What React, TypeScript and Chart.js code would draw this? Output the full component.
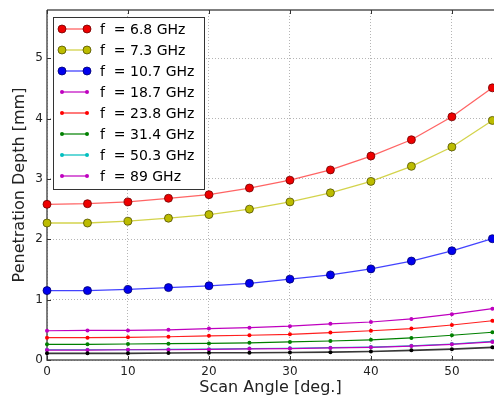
import { useEffect, useRef } from "react";
import { Chart, registerables } from "chart.js";

Chart.register(...registerables);

// ---- data ----
const angles = [0, 5, 10, 15, 20, 25, 30, 35, 40, 45, 50, 55];
const seriesLabels = [
  "f  = 6.8 GHz",
  "f  = 7.3 GHz",
  "f  = 10.7 GHz",
  "f  = 18.7 GHz",
  "f  = 23.8 GHz",
  "f  = 31.4 GHz",
  "f  = 50.3 GHz",
  "f  = 89 GHz",
];
const depth68 = [2.58, 2.59, 2.62, 2.68, 2.74, 2.85, 2.98, 3.15, 3.38, 3.65, 4.03, 4.51];
const depth73 = [2.27, 2.27, 2.3, 2.35, 2.41, 2.5, 2.62, 2.77, 2.96, 3.21, 3.53, 3.97];
const depth107 = [1.15, 1.15, 1.17, 1.2, 1.23, 1.27, 1.34, 1.41, 1.51, 1.64, 1.81, 2.01];
const depth187 = [0.485, 0.49, 0.49, 0.5, 0.52, 0.535, 0.56, 0.6, 0.63, 0.68, 0.76, 0.85];
const depth238 = [0.37, 0.37, 0.375, 0.385, 0.4, 0.41, 0.425, 0.455, 0.485, 0.52, 0.58, 0.65];
const depth314 = [0.26, 0.26, 0.265, 0.27, 0.275, 0.285, 0.3, 0.315, 0.335, 0.365, 0.41, 0.46];
const depth503 = [0.17, 0.17, 0.17, 0.175, 0.18, 0.19, 0.195, 0.205, 0.215, 0.235, 0.265, 0.31];
const depth89 = [0.165, 0.165, 0.17, 0.17, 0.175, 0.185, 0.19, 0.2, 0.21, 0.23, 0.26, 0.3];
const depthExtra = [0.11, 0.11, 0.11, 0.115, 0.12, 0.12, 0.125, 0.13, 0.14, 0.16, 0.18, 0.21];
const xTickValues = [0, 10, 20, 30, 40, 50];
const yTickValues = [0, 1, 2, 3, 4, 5];

const FONT = '"DejaVu Sans", "Liberation Sans", sans-serif';

type Style = { line: string; fill: string; edge: string; r: number; ew: number; lw: number };
const styles: Style[] = [
  { line: "rgba(255,40,40,0.72)", fill: "#ee0000", edge: "#700000", r: 4, ew: 0.8, lw: 1.3 },
  { line: "rgba(200,200,30,0.8)", fill: "#bcbc00", edge: "#505000", r: 4, ew: 0.8, lw: 1.3 },
  { line: "rgba(20,20,255,0.8)", fill: "#0000ee", edge: "#000070", r: 4, ew: 0.8, lw: 1.3 },
  { line: "#bf00bf", fill: "#bf00bf", edge: "#bf00bf", r: 2, ew: 0, lw: 1.2 },
  { line: "#ff2020", fill: "#ff0000", edge: "#ff0000", r: 2, ew: 0, lw: 1.2 },
  { line: "#008000", fill: "#008000", edge: "#008000", r: 2, ew: 0, lw: 1.2 },
  { line: "#00bfbf", fill: "#00bfbf", edge: "#00bfbf", r: 2, ew: 0, lw: 1.2 },
  { line: "#bf00bf", fill: "#bf00bf", edge: "#bf00bf", r: 2, ew: 0, lw: 1.2 },
  { line: "#383838", fill: "#000000", edge: "#000000", r: 2, ew: 0, lw: 1.6 },
];

const allSeries = [depth68, depth73, depth107, depth187, depth238, depth314, depth503, depth89, depthExtra];

const framePlugin = {
  id: "frame",
  beforeDatasetsDraw(chart: any) {
    const { ctx, chartArea, scales } = chart;
    const { left, right, top, bottom } = chartArea;
    ctx.save();
    ctx.strokeStyle = "#555555";
    ctx.lineWidth = 1.5;
    ctx.beginPath();
    ctx.moveTo(left, top);
    ctx.lineTo(right + 2, top);
    ctx.moveTo(left, top);
    ctx.lineTo(left, bottom);
    ctx.lineTo(right + 2, bottom);
    ctx.stroke();
    ctx.lineWidth = 1;
    ctx.strokeStyle = "#333";
    ctx.beginPath();
    xTickValues.forEach((v) => {
      const px = Math.round(scales.x.getPixelForValue(v)) + 0.5;
      ctx.moveTo(px, top);
      ctx.lineTo(px, top + 4);
      ctx.moveTo(px, bottom);
      ctx.lineTo(px, bottom - 4);
    });
    yTickValues.forEach((v) => {
      const py = Math.round(scales.y.getPixelForValue(v)) + 0.5;
      ctx.moveTo(left, py);
      ctx.lineTo(left + 4, py);
    });
    ctx.stroke();
    ctx.restore();
  },
};

const legendPlugin = {
  id: "boxLegend",
  afterDraw(chart: any) {
    const { ctx } = chart;
    const items = chart.data.datasets.filter((ds: any) => ds.label);
    ctx.save();
    ctx.fillStyle = "#ffffff";
    ctx.strokeStyle = "#333333";
    ctx.lineWidth = 1;
    ctx.fillRect(53.5, 17.5, 151, 172);
    ctx.strokeRect(53.5, 17.5, 151, 172);
    items.forEach((ds: any, i: number) => {
      const y = 29 + i * 21;
      ctx.strokeStyle = ds.borderColor;
      ctx.lineWidth = ds.borderWidth;
      ctx.beginPath();
      ctx.moveTo(62, y);
      ctx.lineTo(87, y);
      ctx.stroke();
      [62, 87].forEach((mx) => {
        ctx.beginPath();
        ctx.arc(mx, y, ds.pointRadius, 0, Math.PI * 2);
        ctx.fillStyle = ds.pointBackgroundColor;
        ctx.fill();
        if (ds.pointBorderWidth > 0) {
          ctx.lineWidth = ds.pointBorderWidth;
          ctx.strokeStyle = ds.pointBorderColor;
          ctx.stroke();
        }
      });
      ctx.fillStyle = "#000";
      ctx.font = `14px ${FONT}`;
      ctx.textAlign = "left";
      ctx.textBaseline = "middle";
      ctx.fillText(ds.label, 100, y + 1);
    });
    ctx.restore();
  },
};

export default function App() {
  const canvasRef = useRef<HTMLCanvasElement | null>(null);

  useEffect(() => {
    document.body.style.margin = "0";
    const canvas = canvasRef.current;
    if (!canvas) return;
    const n = allSeries.length;
    const datasets = allSeries.map((vals, i) => {
      const s = styles[i];
      return {
        label: seriesLabels[i] ?? "",
        data: angles.map((a, j) => ({ x: a, y: vals[j] })),
        borderColor: s.line,
        borderWidth: s.lw,
        pointRadius: s.r,
        pointBackgroundColor: s.fill,
        pointBorderColor: s.edge,
        pointBorderWidth: s.ew,
        tension: 0,
        fill: false,
        clip: false as any,
        order: n - i,
      };
    });

    const chart = new Chart(canvas, {
      type: "line",
      data: { datasets },
      options: {
        responsive: false,
        animation: false,
        devicePixelRatio: 1,
        layout: { autoPadding: false, padding: { top: 10, left: 0, right: 0, bottom: 0 } },
        plugins: { legend: { display: false }, tooltip: { enabled: false } },
        scales: {
          x: {
            type: "linear",
            min: 0,
            max: 55.2,
            afterBuildTicks: (s: any) => {
              s.ticks = xTickValues.map((v) => ({ value: v }));
            },
            afterFit: (s: any) => {
              s.height = 40;
              s.paddingRight = 0;
              s.paddingLeft = 0;
            },
            ticks: { stepSize: 10, font: { size: 12, family: FONT }, color: "#222", padding: 5, maxRotation: 0 },
            grid: { color: "#b5b5b5", lineWidth: 1, drawTicks: false },
            border: { display: false, dash: [1, 2] },
            title: {
              display: true,
              text: "Scan Angle [deg.]",
              font: { size: 16, family: FONT },
              color: "#222",
              padding: { top: 0, bottom: 3 },
            },
          },
          y: {
            type: "linear",
            min: 0,
            max: 5.8,
            afterBuildTicks: (s: any) => {
              s.ticks = yTickValues.map((v) => ({ value: v }));
            },
            afterFit: (s: any) => {
              s.width = 47;
              s.paddingTop = 0;
              s.paddingBottom = 0;
            },
            ticks: { stepSize: 1, font: { size: 12, family: FONT }, color: "#222", padding: 4 },
            grid: { color: "#b5b5b5", lineWidth: 1, drawTicks: false },
            border: { display: false, dash: [1, 2] },
            title: {
              display: true,
              text: "Penetration Depth [mm]",
              font: { size: 16, family: FONT },
              color: "#222",
              padding: { top: 10, bottom: 0 },
            },
          },
        },
      },
      plugins: [framePlugin, legendPlugin],
    });
    return () => chart.destroy();
  }, []);

  return (
    <div style={{ width: 494, height: 400 }}>
      <canvas ref={canvasRef} width={494} height={400} />
    </div>
  );
}
